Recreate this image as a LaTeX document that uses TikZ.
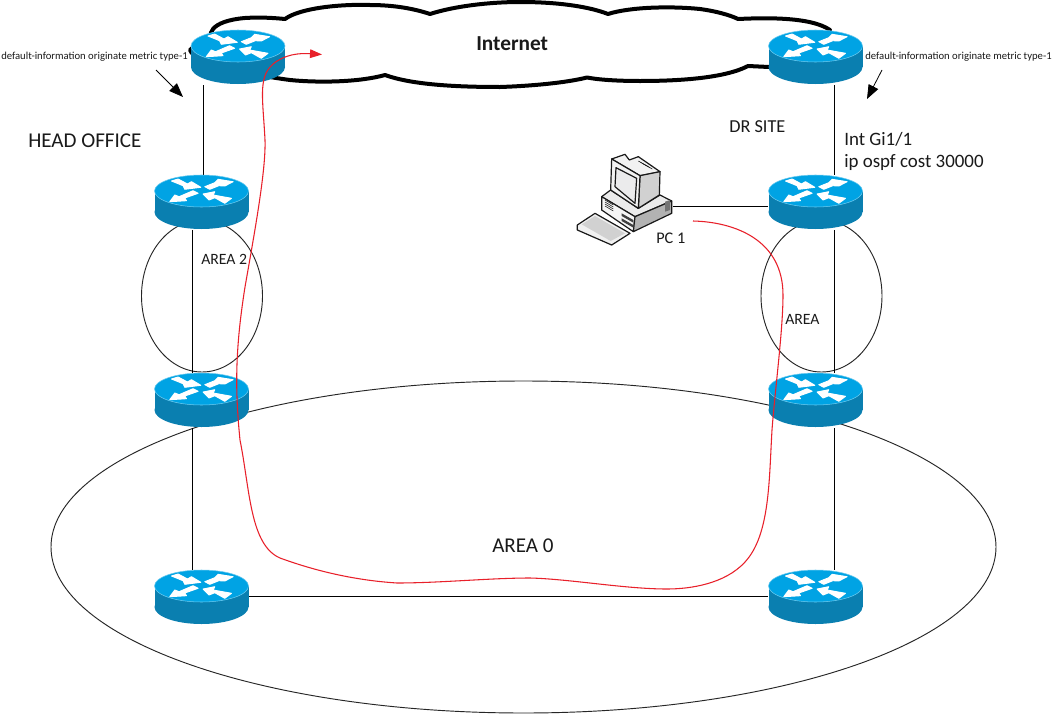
\documentclass[tikz,border=0pt]{standalone}
\usepackage{fontspec}
\setmainfont{Carlito}
\usetikzlibrary{calc,arrows.meta}
\definecolor{routertop}{HTML}{00A3E4}
\definecolor{routerside}{HTML}{0A7FB0}
\definecolor{routeredge}{HTML}{6CCBF0}
\definecolor{pathred}{HTML}{E8202A}
\definecolor{labelink}{HTML}{1A1A1A}
\tikzset{
  routerbox/.style={inner sep=0pt, minimum width=70.5pt, minimum height=40.5pt},
  pcbox/.style={inner sep=0pt, minimum width=72pt, minimum height=71pt},
  areabox/.style={inner sep=0pt, minimum width=90.75pt, minimum height=114pt},
  link/.style={draw=black, line width=0.75pt},
  area/.style={draw=black!85, line width=0.7pt},
  cloudline/.style={draw=black, line width=3pt, fill=white, line join=round},
  routepath/.style={draw=pathred, line width=0.8pt},
  callout/.style={draw=black, line width=0.6pt, -{Triangle[length=10.5pt,width=8pt]}},
  note/.style={inner sep=0pt, text=labelink, font=\fontsize{8pt}{9pt}\selectfont, anchor=west},
  label/.style={inner sep=0pt, text=labelink, font=\fontsize{15.8pt}{16.5pt}\selectfont, anchor=west, align=left},
  small/.style={inner sep=0pt, text=labelink, font=\fontsize{11.8pt}{13pt}\selectfont, anchor=west},
  routerarrow/.style={fill=white, draw=white, line width=0.7pt, line join=round},
  routerart/.pic={
    \fill[routerside] (-47,-11) rectangle (47,10);
    \fill[routerside] (0,10) ellipse [x radius=47, y radius=17];
    \draw[routeredge, line width=0.4pt, fill=routertop] (0,-11) ellipse [x radius=47, y radius=16];
    \begin{scope}[shift={(0,-11)}]
      \path[routerarrow] (-30,-10) -- (-23.4,-12) -- (-14,-7) -- (-10,-9.3) -- (-0.7,-3.7) -- (-16.7,-1.7) -- (-18.4,-5.3) -- cycle;
      \path[routerarrow] (31.6,-9.3) -- (16.6,-11.7) -- (13.3,-8.3) -- (3.3,-4.3) -- (8.3,-1.7) -- (17.3,-5.3) -- (23.3,-5) -- cycle;
      \path[routerarrow] (-31.7,10.7) -- (-26.7,4) -- (-22.4,5.7) -- (-8.4,-0.3) -- (-3.4,2.3) -- (-16.7,7) -- (-15,9.7) -- cycle;
      \path[routerarrow] (1.6,3) -- (13.3,0.7) -- (11.6,4) -- (30,7.3) -- (23.3,12.3) -- (13.3,6.7) -- (7.6,9) -- cycle;
    \end{scope}
  },
  pcart/.pic={
    % coordinates below are thirds of a pixel from the icon's corner
    \begin{scope}[shift={(-55,-57.5)}, x=0.25pt, y=-0.25pt, draw=black!90, line width=0.9pt, line join=round]
      % desktop case
      \filldraw[fill=black!8] (95,155) -- (122,135) -- (205,190) -- (270,150) -- (305,168) -- (195,215) -- cycle;
      \filldraw[fill=black!4] (95,155) -- (195,215) -- (190,260) -- (95,195) -- cycle;
      \filldraw[fill=black!30] (195,215) -- (305,168) -- (305,205) -- (190,260) -- cycle;
      \fill[black!55] (285,170) -- (300,165) -- (300,195) -- (285,200) -- cycle;
      \foreach \k in {0,6,12,18} {\draw[line width=0.4pt] (105,165+\k) -- (130,180+\k);}
      \fill[black!75] (155,205) -- (190,225) -- (190,233) -- (155,213) -- cycle;
      \fill[black!75] (155,220) -- (190,240) -- (190,248) -- (155,228) -- cycle;
      % monitor
      \filldraw[fill=black!5] (125,42) -- (165,28) -- (178,45) -- (205,35) -- (270,80) -- (210,92) -- cycle;
      \filldraw[fill=black!18] (210,92) -- (270,80) -- (268,150) -- (205,190) -- cycle;
      \filldraw[fill=black!5] (125,42) -- (210,92) -- (205,190) -- (122,135) -- cycle;
      \filldraw[fill=blue!5!black!8] (138,68) -- (200,100) -- (195,175) -- (135,125) -- cycle;
      \foreach \k in {0,6,12} {\draw[line width=0.4pt] (205+\k,48+\k*0.6) -- (235+\k,65+\k*0.6);}
      % keyboard
      \filldraw[fill=black!6] (22,240) -- (75,205) -- (180,265) -- (125,300) -- (22,255) -- cycle;
      \fill[black!18] (35,238) -- (75,213) -- (165,265) -- (122,288) -- cycle;
    \end{scope}
  }
}
\begin{document}
\begin{tikzpicture}[x=0.75pt, y=-0.75pt]
\useasboundingbox (0,0) rectangle (1054,714);
\fill[white] (0,0) rectangle (1054,714);

% device placeholders
\node[routerbox] (hq1) at (238,57) {};
\node[routerbox] (hq2) at (201.5,202) {};
\node[routerbox] (hq3) at (201.5,400) {};
\node[routerbox] (hq4) at (201.5,597) {};
\node[routerbox] (dr1) at (815.5,57) {};
\node[routerbox] (dr2) at (815.5,202) {};
\node[routerbox] (dr3) at (815.5,400) {};
\node[routerbox] (dr4) at (815.5,597) {};
\node[pcbox] (pc) at (625,202.5) {};

% cloud
\draw[cloudline] (215,45) .. controls (205,35) and (210,21) .. (245,18)
  .. controls (260,17) and (275,18) .. (285,19)
  .. controls (300,8) and (340,4) .. (370,5)
  .. controls (395,5) and (415,9) .. (430,14)
  .. controls (455,6) and (490,2) .. (520,2)
  .. controls (560,2) and (590,7) .. (608,14)
  .. controls (630,7) and (670,6) .. (700,9)
  .. controls (715,11) and (730,15) .. (738,19)
  .. controls (760,18) and (810,16) .. (830,30)
  -- (800,66) -- (769,67) -- (748,66)
  .. controls (725,78) and (680,81) .. (640,81)
  .. controls (620,81) and (600,80) .. (587,77.5)
  .. controls (565,83) and (530,86) .. (500,87)
  .. controls (450,87) and (410,84) .. (385,75)
  .. controls (360,82) and (320,83) .. (290,80)
  .. controls (260,76) and (195,65) .. (190,50)
  .. controls (190,48) and (200,45) .. (215,45) -- cycle;

% OSPF areas
\node[areabox] (area2) at (202,296) {};
\node[areabox] (areaR) at (821.5,296) {};
\draw[area] (area2.center) ellipse [x radius=60.5, y radius=76];
\draw[area] (areaR.center) ellipse [x radius=60.5, y radius=76];
\coordinate (area0c) at (523.5,547);
\draw[area] (area0c) ellipse [x radius=472.5, y radius=166];

% links
\draw[link] ($(hq1.south)+(-35,1)$) -- ($(hq2.north)+(1.5,0)$);
\draw[link] ($(hq2.south)+(-9.5,1)$) -- ($(hq3.north)+(-9.5,0)$);
\draw[link] ($(hq3.south)+(-9.5,1)$) -- ($(hq4.north)+(-9.5,0)$);
\draw[link] ($(dr1.south)+(19,1)$) -- ($(dr2.north)+(19,0)$);
\draw[link] ($(dr2.south)+(19,1)$) -- ($(dr3.north)+(19,0)$);
\draw[link] ($(dr3.south)+(19,1)$) -- ($(dr4.north)+(19,0)$);
\draw[link] ($(hq4.east)+(0,-1)$) -- ($(dr4.west)+(0,-1)$);
\draw[link] ($(pc.east)+(0,3.5)$) -- ($(dr2.west)+(0,4)$);

% devices
\foreach \n in {hq1,hq2,hq3,hq4,dr1,dr2,dr3,dr4} {\pic at (\n) {routerart};}
\pic at (pc) {pcart};

% callouts
\coordinate (calloutL) at (156,70);
\coordinate (calloutLend) at (183,97);
\coordinate (calloutR) at (882,70);
\coordinate (calloutRend) at (867,99);
\draw[callout] (calloutL) -- (calloutLend);
\draw[callout] (calloutR) -- (calloutRend);

% labels
\node[note] (noteL) at (1,57) {default-information originate metric type-1};
\node[note] (noteR) at (865,57) {default-information originate metric type-1};
\node[label] (hq) at (28,141) {HEAD OFFICE};
\node[small, font=\fontsize{13.7pt}{15pt}\selectfont] (dr) at (729,127) {DR SITE};
\node[label, anchor=north west, font=\fontsize{14.2pt}{16.5pt}\selectfont] (cost) at (844,132) {Int Gi1/1\\ip ospf cost 30000};
\node[small, font=\fontsize{12.2pt}{14pt}\selectfont] (pclabel) at (656,238) {PC 1};
\node[small] (a2) at (201,259) {AREA 2};
\node[small] (aR) at (785,319.5) {AREA};
\node[label] (a0) at (492,546) {AREA 0};
\node[label, font=\fontsize{16pt}{18pt}\selectfont\bfseries] (net) at (476,44) {Internet};

% traffic path
\coordinate (routeStart) at (693,221);
\coordinate (routeEnd) at (322,54.5);
\draw[routepath, -{Triangle[length=9pt,width=6.5pt]}] (routeStart)
  .. controls (735,222) and (783,240) .. (783,295)
  .. controls (783,330) and (775,390) .. (772,430)
  .. controls (769,480) and (770,535) .. (745,562)
  .. controls (725,584) and (690,589) .. (667,589)
  .. controls (625,589) and (570,579) .. (530,578)
  .. controls (490,578) and (440,583) .. (397,583)
  .. controls (350,580) and (310,569) .. (280,558)
  .. controls (250,545) and (250,490) .. (240,440)
  .. controls (235,390) and (235,350) .. (245,287)
  .. controls (255,230) and (266,170) .. (265,140)
  .. controls (263,100) and (258,78) .. (272,65)
  .. controls (284,54) and (300,53) .. (routeEnd);
\end{tikzpicture}
\end{document}
